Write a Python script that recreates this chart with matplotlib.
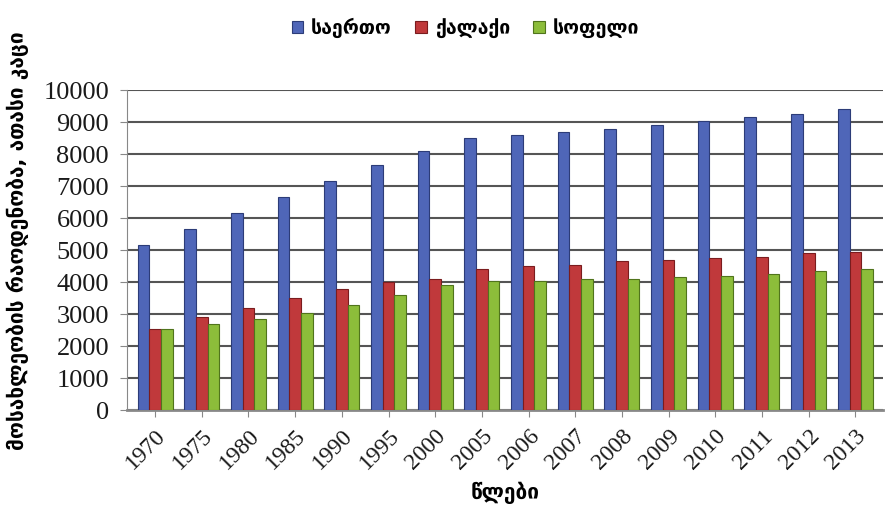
import matplotlib.pyplot as plt
import numpy as np

years = ['1970', '1975', '1980', '1985', '1990', '1995', '2000', '2005',
         '2006', '2007', '2008', '2009', '2010', '2011', '2012', '2013']
total = [5150, 5650, 6150, 6650, 7150, 7650, 8100, 8500,
         8600, 8700, 8800, 8900, 9050, 9150, 9250, 9400]
urban = [2550, 2900, 3200, 3500, 3800, 4000, 4100, 4400,
         4500, 4550, 4650, 4700, 4750, 4800, 4900, 4950]
rural = [2550, 2700, 2850, 3050, 3300, 3600, 3900, 4050,
         4050, 4100, 4100, 4150, 4200, 4250, 4350, 4400]

series_names = ['საერთო', 'ქალაქი', 'სოფელი']
colors = ['#4f66b8', '#c0393b', '#8cbd3a']
edges = ['#2c3c78', '#7a1c1e', '#50741c']

serif = ['Liberation Serif', 'DejaVu Serif', 'DejaVu Sans']
geo = ['DejaVu Sans']

fig = plt.figure(figsize=(8.95, 5.3), dpi=100)
ax = fig.add_axes([0.142, 0.226, 0.845, 0.604])

x = np.arange(len(years))
w = 0.25
for i, vals in enumerate([total, urban, rural]):
    ax.bar(x + (i - 1) * w, vals, w, color=colors[i], edgecolor=edges[i],
           linewidth=0.8, label=series_names[i], zorder=3)

ax.set_ylim(0, 10000)
ax.set_xlim(-0.6, len(years) - 0.4)
ax.set_yticks(range(0, 10001, 1000))
ax.yaxis.grid(True, color='#555555', linewidth=1.5, zorder=0)
ax.set_axisbelow(True)
for s in ['top', 'right']:
    ax.spines[s].set_visible(False)
ax.spines['left'].set_color('#888888')
ax.spines['bottom'].set_color('#888888')
ax.spines['bottom'].set_linewidth(2)
ax.tick_params(axis='both', colors='#888888', length=5)
ax.tick_params(axis='y', pad=8)
ax.tick_params(axis='x', pad=6)

ax.set_xticks(x)
ax.set_xticklabels(years, rotation=45, ha='right', rotation_mode='anchor',
                   family=serif, fontsize=17, color='#1a1a1a')
for lab in ax.get_yticklabels():
    lab.set_family(serif)
    lab.set_fontsize(19)
    lab.set_color('#1a1a1a')

ax.set_xlabel('წლები', family=geo, fontsize=15, fontweight='bold', labelpad=6)
ax.set_ylabel('მოსახლეობის რაოდენობა, ათასი კაცი', family=geo, fontsize=15,
              fontweight='bold', labelpad=4)
ax.yaxis.set_label_coords(-0.13, 0.53)

leg = fig.legend(loc='upper center', bbox_to_anchor=(0.52, 1.0), ncol=3,
                 frameon=False, prop={'family': geo, 'size': 14, 'weight': 'bold'},
                 handlelength=0.6, handleheight=0.6, columnspacing=1.2,
                 handletextpad=0.4)

fig.savefig('out.png', dpi=100)
